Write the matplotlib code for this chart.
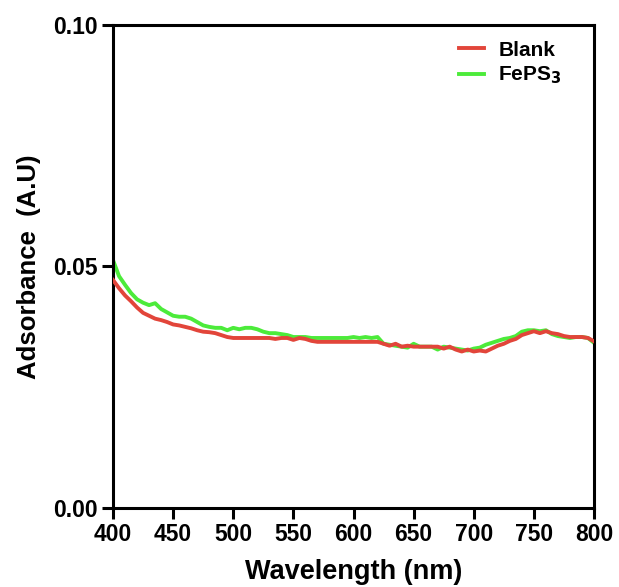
import numpy as np
import matplotlib.pyplot as plt

plt.rcParams['font.family'] = ['Liberation Sans', 'DejaVu Sans']
plt.rcParams['font.weight'] = 'bold'

# data (5 nm steps)
wavelength = np.arange(400, 801, 5)

blank = [
    0.0472, 0.0455, 0.0440, 0.0428, 0.0415, 0.0404, 0.0398, 0.0392, 0.0389, 0.0385,
    0.0380, 0.0378, 0.0375, 0.0372, 0.0368, 0.0365, 0.0364, 0.0362, 0.0358, 0.0354,
    0.0352, 0.0352, 0.0352, 0.0352, 0.0352, 0.0352, 0.0352, 0.0350, 0.0352, 0.0352,
    0.0348, 0.0352, 0.0350, 0.0346, 0.0344, 0.0344, 0.0344, 0.0344, 0.0344, 0.0344,
    0.0344, 0.0344, 0.0344, 0.0344, 0.0344, 0.0340, 0.0336, 0.0340, 0.0334, 0.0336,
    0.0334, 0.0334, 0.0334, 0.0334, 0.0334, 0.0330, 0.0334, 0.0328, 0.0324, 0.0328,
    0.0324, 0.0326, 0.0324, 0.0330, 0.0336, 0.0340, 0.0346, 0.0350, 0.0358, 0.0362,
    0.0366, 0.0362, 0.0366, 0.0362, 0.0360, 0.0356, 0.0354, 0.0354, 0.0354, 0.0352,
    0.0345,
]

feps3 = [
    0.0513, 0.0480, 0.0462, 0.0445, 0.0432, 0.0425, 0.0420, 0.0424, 0.0412, 0.0405,
    0.0398, 0.0396, 0.0396, 0.0392, 0.0385, 0.0378, 0.0375, 0.0373, 0.0373, 0.0368,
    0.0373, 0.0370, 0.0373, 0.0373, 0.0370, 0.0365, 0.0362, 0.0362, 0.0360, 0.0358,
    0.0354, 0.0354, 0.0354, 0.0352, 0.0352, 0.0352, 0.0352, 0.0352, 0.0352, 0.0352,
    0.0354, 0.0352, 0.0354, 0.0352, 0.0354, 0.0340, 0.0338, 0.0336, 0.0334, 0.0332,
    0.0340, 0.0334, 0.0334, 0.0334, 0.0328, 0.0334, 0.0332, 0.0330, 0.0328, 0.0326,
    0.0330, 0.0332, 0.0338, 0.0342, 0.0346, 0.0350, 0.0352, 0.0356, 0.0365, 0.0368,
    0.0368, 0.0366, 0.0368, 0.0360, 0.0356, 0.0354, 0.0352, 0.0354, 0.0354, 0.0352,
    0.0342,
]

fig = plt.figure(figsize=(6.19, 5.87), dpi=100)
ax = fig.add_axes([0.1826, 0.1346, 0.7770, 0.8228])

ax.plot(wavelength, feps3, color='#4CEB3A', lw=2.8, label='FePS$_3$', zorder=2)
ax.plot(wavelength, blank, color='#E2453A', lw=2.8, label='Blank', zorder=3)

ax.set_xlim(400, 800)
ax.set_ylim(0, 0.10)
ax.set_xticks(np.arange(400, 801, 50))
ax.set_yticks([0.00, 0.05, 0.10])
ax.set_yticklabels(['0.00', '0.05', '0.10'])

for s in ['top', 'right', 'left', 'bottom']:
    ax.spines[s].set_linewidth(2.2)
ax.tick_params(axis='both', direction='out', length=8, width=2.2, labelsize=16.5, pad=3)

ax.set_xlabel('Wavelength (nm)', fontsize=19.5, fontweight='bold', labelpad=9)
ax.set_ylabel('Adsorbance  (A.U)', fontsize=18.5, fontweight='bold', labelpad=9)

handles, labels = ax.get_legend_handles_labels()
ax.legend(handles[::-1], labels[::-1], loc='upper right', frameon=False,
          bbox_to_anchor=(0.95, 0.985), borderaxespad=0,
          handlelength=1.2, handletextpad=0.7, labelspacing=0.25,
          prop={'weight': 'bold', 'size': 15})

fig.savefig('out.png', dpi=100)
